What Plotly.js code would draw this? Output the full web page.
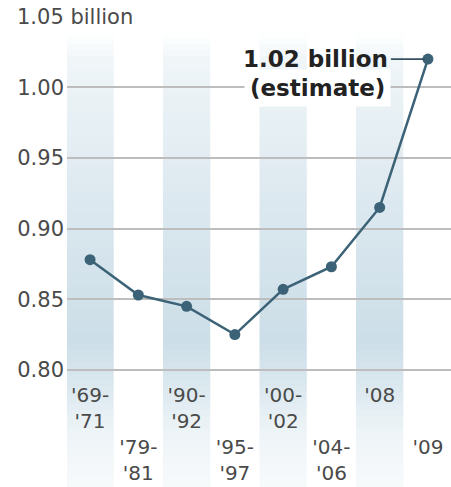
<!DOCTYPE html>
<html>
<head>
<meta charset="utf-8">
<script src="https://cdn.plot.ly/plotly-3.0.1.min.js"></script>
<style>html,body{margin:0;padding:0;background:#fff;}#chart{width:451px;height:487px;}</style>
</head>
<body>
<div id="chart"></div>
<script>
// ---- data ----
const periods = ["'69-'71", "'79-'81", "'90-'92", "'95-'97", "'00-'02", "'04-'06", "'08", "'09"];
const hungryBillions = [0.878, 0.853, 0.845, 0.825, 0.857, 0.873, 0.915, 1.02];
const yTickVals = [0.80, 0.85, 0.90, 0.95, 1.00, 1.05];
const yTickText = ["0.80", "0.85", "0.90", "0.95", "1.00", ""];
const topTickLabel = "1.05 billion";
const estimateLines = ["1.02 billion", "(estimate)"];
const shadedPeriods = periods.filter((p, i) => i % 2 === 0);

// ---- layout helpers ----
const W = 451, H = 487;
const M = {l: 67, r: 0, t: 16, b: 103};
const xRange = [-0.478, 7.478];
const yRange = [0.79, 1.0505];
const FONT = 'DejaVu Sans, Verdana, sans-serif';
const gridColor = '#bdbdbd';
const lineColor = '#3b6276';
const textColor = '#4a4a4a';

// tick labels: split each period on the hyphen, stagger odd ones down two lines
const tickText = periods.map((p, i) => {
  const parts = p.split('-');
  const lbl = parts.length > 1 ? parts[0] + '-<br>' + parts[1] : parts[0];
  return (i % 2 === 1 ? '<br><br>' : '') + lbl;
});

// gradient shaded columns built from stacked slices
const plotH = H - M.t - M.b;
function pxToPaper(py) { return (H - M.b - py) / plotH; }
const alphaProfile = [[32, 0.0], [60, 0.3], [150, 0.55], [250, 0.8], [340, 1.0], [380, 0.75], [430, 0.35], [487, 0.15]];
function alphaAt(py) {
  for (let k = 0; k < alphaProfile.length - 1; k++) {
    const [y0, a0] = alphaProfile[k], [y1, a1] = alphaProfile[k + 1];
    if (py >= y0 && py <= y1) return a0 + (a1 - a0) * (py - y0) / (y1 - y0);
  }
  return 0;
}
const shapes = [];
const xSpan = xRange[1] - xRange[0];
shadedPeriods.forEach(p => {
  const idx = periods.indexOf(p);
  const x0 = (idx - 0.49 - xRange[0]) / xSpan;
  const x1 = (idx + 0.49 - xRange[0]) / xSpan;
  for (let py = 32; py < H; py += 6) {
    const a = alphaAt(py + 3);
    shapes.push({
      type: 'rect', xref: 'paper', yref: 'paper', layer: 'below',
      x0: Math.max(0, x0), x1: x1, y0: pxToPaper(py + 6), y1: pxToPaper(py),
      line: {width: 0}, fillcolor: `rgba(204,222,232,${a.toFixed(3)})`
    });
  }
});

const trace = {
  x: periods, y: hungryBillions, type: 'scatter', mode: 'lines+markers',
  line: {color: lineColor, width: 2.5},
  marker: {color: lineColor, size: 11},
  hoverinfo: 'skip', cliponaxis: false
};

const layout = {
  width: W, height: H, margin: M,
  paper_bgcolor: '#fff', plot_bgcolor: 'rgba(0,0,0,0)',
  showlegend: false,
  font: {family: FONT, size: 21, color: textColor},
  xaxis: {
    type: 'category', range: xRange, tickvals: periods, ticktext: tickText,
    showgrid: false, zeroline: false, showline: false, ticks: '',
    ticklabelstandoff: -3,
    tickfont: {family: FONT, size: 20, color: textColor}, fixedrange: true
  },
  yaxis: {
    range: yRange, tickvals: yTickVals, ticktext: yTickText,
    showgrid: true, gridcolor: gridColor, gridwidth: 2,
    zeroline: false, showline: false, ticks: '', ticklabelstandoff: 2,
    tickfont: {family: FONT, size: 21, color: textColor}, fixedrange: true
  },
  shapes: shapes,
  annotations: [
    {
      xref: 'paper', yref: 'y', x: (12 - M.l) / (W - M.l - M.r), y: yTickVals[yTickVals.length - 1],
      xanchor: 'left', yanchor: 'middle', text: topTickLabel, showarrow: false,
      bgcolor: '#fff', borderpad: 4,
      font: {family: FONT, size: 21, color: textColor}
    },
    {
      xref: 'x', yref: 'y', x: periods[7], y: hungryBillions[7],
      text: '<b>' + estimateLines[0] + '</b>', showarrow: true, arrowhead: 0,
      arrowwidth: 1.6, arrowcolor: '#35505e', ax: -37, ay: 0, xanchor: 'right', standoff: 3,
      borderpad: 2, font: {family: FONT, size: 23, color: '#222'}
    },
    {
      xref: 'x', yref: 'y', x: periods[7], y: hungryBillions[7],
      text: '<b>' + estimateLines[1] + '</b>', showarrow: false,
      xanchor: 'right', yanchor: 'middle', xshift: -37, yshift: -29,
      bgcolor: '#fff', borderpad: 5, font: {family: FONT, size: 23, color: '#222'}
    }
  ]
};

Plotly.newPlot('chart', [trace], layout, {staticPlot: true, displayModeBar: false});
</script>
</body>
</html>
